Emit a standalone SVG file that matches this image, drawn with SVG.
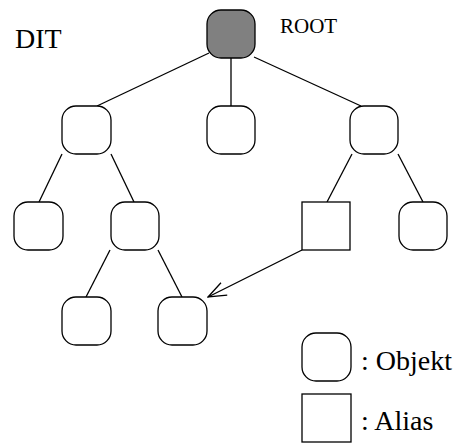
<svg xmlns="http://www.w3.org/2000/svg" width="458" height="443" viewBox="0 0 458 443">
  <style>
    .obj { fill: #ffffff; stroke: #000000; stroke-width: 1.3; }
    .root { fill: #808080; stroke: #000000; stroke-width: 1.3; }
    .edge { fill: none; stroke: #000000; stroke-width: 1.3; }
    text { font-family: 'Liberation Serif', 'Times New Roman', Times, 'DejaVu Serif', serif; fill: #000000; }
  </style>
  <defs>
    <marker id="openArrow" viewBox="0 0 20 16" refX="19" refY="8" markerWidth="20" markerHeight="16" markerUnits="userSpaceOnUse" orient="auto">
      <path d="M1,1 L19,8 L1,15" fill="none" stroke="#000000" stroke-width="1.3"/>
    </marker>
  </defs>

  <rect width="458" height="443" fill="#ffffff"/>

  <text x="15" y="48" font-size="28">DIT</text>

  <g id="connectors">
    <line class="edge" x1="209" y1="53" x2="97" y2="106"/>
    <line class="edge" x1="231" y1="58" x2="231" y2="106"/>
    <line class="edge" x1="254" y1="57" x2="361" y2="106"/>
    <line class="edge" x1="62" y1="154" x2="39" y2="202"/>
    <line class="edge" x1="111" y1="154" x2="134" y2="202"/>
    <line class="edge" x1="110" y1="250" x2="86" y2="297"/>
    <line class="edge" x1="158" y1="250" x2="182" y2="297"/>
    <line class="edge" x1="352" y1="154" x2="327" y2="202"/>
    <line class="edge" x1="398" y1="154" x2="423" y2="202"/>
    <line class="edge" x1="302" y1="250" x2="208" y2="297" marker-end="url(#openArrow)"/>
  </g>

  <g id="root">
    <rect class="root" x="207" y="10" width="48" height="48" rx="14"/>
    <text x="280" y="33" font-size="21">ROOT</text>
  </g>

  <g id="n1-left"><rect class="obj" x="62" y="106" width="49" height="48" rx="14"/></g>
  <g id="n1-mid"><rect class="obj" x="207" y="106" width="48" height="48" rx="14"/></g>
  <g id="n1-right"><rect class="obj" x="350" y="106" width="48" height="48" rx="14"/></g>

  <g id="n2-a"><rect class="obj" x="14" y="202" width="49" height="48" rx="14"/></g>
  <g id="n2-b"><rect class="obj" x="111" y="202" width="48" height="48" rx="14"/></g>
  <g id="alias"><rect class="obj" x="302" y="202" width="48" height="48"/></g>
  <g id="n2-d"><rect class="obj" x="399" y="202" width="48" height="48" rx="14"/></g>

  <g id="n3-a"><rect class="obj" x="62" y="297" width="49" height="48" rx="14"/></g>
  <g id="n3-b"><rect class="obj" x="158" y="297" width="49" height="48" rx="14"/></g>

  <g id="legend-objekt">
    <rect class="obj" x="302" y="333" width="49" height="48" rx="14"/>
    <text x="361" y="370" font-size="28">: Objekt</text>
  </g>
  <g id="legend-alias">
    <rect class="obj" x="302" y="394" width="49" height="48"/>
    <text x="361" y="430" font-size="28">: Alias</text>
  </g>
</svg>
